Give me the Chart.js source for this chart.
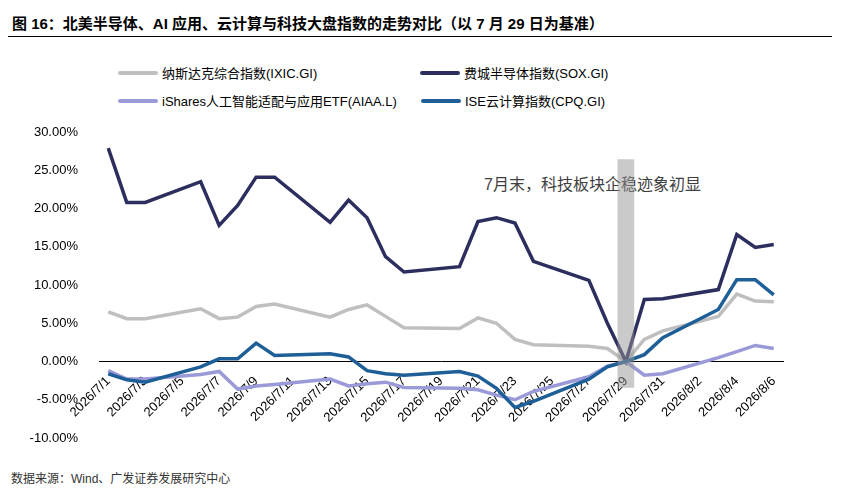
<!DOCTYPE html>
<html>
<head>
<meta charset="utf-8">
<script src="https://cdn.jsdelivr.net/npm/chart.js@4.4.1/dist/chart.umd.min.js"></script>
<style>
    html, body { margin: 0; padding: 0; background: #fff; }
    body { width: 855px; height: 495px; position: relative; overflow: hidden;
           font-family: "Liberation Sans", Arial, "Noto Sans CJK SC", sans-serif; color: #000; }
    #wrap { position: absolute; left: 0; top: 0; width: 855px; height: 495px; }
    .title { position: absolute; left: 12px; top: 12px; font-size: 15px; font-weight: bold; white-space: nowrap; }
    .rule { position: absolute; left: 8px; top: 36px; width: 824px; height: 0; border-top: 1.5px solid #000; }
    .legend-item { position: absolute; display: flex; align-items: center; font-size: 13px; white-space: nowrap; }
    .legend-item span.swatch { display: inline-block; width: 40px; height: 4px; margin-right: 4px; border-radius: 2px; }
    .note { position: absolute; left: 484px; top: 171px; font-size: 16px; color: #404040; white-space: nowrap; }
    .source { position: absolute; left: 11px; top: 469px; font-size: 12px; color: #333; white-space: nowrap; }
</style>
</head>
<body>
<div class="title">图 16：北美半导体、AI 应用、云计算与科技大盘指数的走势对比（以 7 月 29 日为基准）</div>
<div class="rule"></div>
<div id="legend"></div>
<div class="note">7月末，科技板块企稳迹象初显</div>
<div class="source">数据来源：Wind、广发证券发展研究中心</div>
<div id="wrap"><canvas id="trendChart"></canvas></div>

<script>
// 日期（含周末，周末无数据）
const dates = [
    '2026/7/1', '2026/7/2', '2026/7/3', '2026/7/4', '2026/7/5', '2026/7/6', '2026/7/7', '2026/7/8',
    '2026/7/9', '2026/7/10', '2026/7/11', '2026/7/12', '2026/7/13', '2026/7/14', '2026/7/15', '2026/7/16',
    '2026/7/17', '2026/7/18', '2026/7/19', '2026/7/20', '2026/7/21', '2026/7/22', '2026/7/23', '2026/7/24',
    '2026/7/25', '2026/7/26', '2026/7/27', '2026/7/28', '2026/7/29', '2026/7/30', '2026/7/31', '2026/8/1',
    '2026/8/2', '2026/8/3', '2026/8/4', '2026/8/5', '2026/8/6'
];

// 相对 7/29 的涨跌幅 (%)
const ixic = [6.5, 5.6, 5.6, null, null, 6.9, 5.6, 5.8, 7.2, 7.5, null, null, 5.8, 6.8, 7.4, 5.9,
    4.4, null, null, 4.3, 5.7, 5.0, 2.9, 2.2, null, null, 2.0, 1.7, 0, 2.9, 4.0, null, null, 5.9, 8.8, 7.9, 7.8];
const sox = [27.9, 20.8, 20.8, null, null, 23.5, 17.8, 20.4, 24.1, 24.1, null, null, 18.2, 21.1, 18.8, 13.7,
    11.7, null, null, 12.4, 18.3, 18.8, 18.1, 13.1, null, null, 10.6, 5.0, 0, 8.1, 8.2, null, null, 9.4, 16.6, 14.9, 15.3];
const aiaa = [-1.2, -2.3, -2.3, null, null, -1.7, -1.3, -3.6, -3.2, -3.0, null, null, -2.3, -3.2, -2.9, -2.7,
    -3.4, null, null, -3.5, -3.7, -4.4, -5.0, -3.9, null, null, -2.0, -0.6, 0, -1.8, -1.6, null, null, 0.5, 1.3, 2.1, 1.7];
const cpq = [-1.6, -2.4, -2.7, null, null, -0.7, 0.35, 0.35, 2.4, 0.8, null, null, 1.0, 0.6, -1.2, -1.6,
    -1.8, null, null, -1.3, -1.9, -3.5, -6.0, -5.2, null, null, -2.3, -0.7, 0, 0.9, 3.1, null, null, 6.8, 10.7, 10.7, 8.7];

// 7/29 基准日的灰色标记带
const highlightBand = dates.map(d => d === '2026/7/29' ? [-3.4, 26.4] : null);

const seriesNames = ['纳斯达克综合指数(IXIC.GI)', '费城半导体指数(SOX.GI)', 'iShares人工智能适配与应用ETF(AIAA.L)', 'ISE云计算指数(CPQ.GI)'];
const seriesData = [ixic, sox, aiaa, cpq];
const seriesColors = ['#BFBFBF', '#2C2E5E', '#9A9AD8', '#1F5F97'];
const yTicks = [-10, -5, 0, 5, 10, 15, 20, 25, 30];

// 图例（两列）
const legendPos = [[118, 63], [420, 63], [118, 91], [421, 91]];
const legendBox = document.getElementById('legend');
seriesNames.forEach((name, i) => {
    const item = document.createElement('div');
    item.className = 'legend-item';
    item.style.left = legendPos[i][0] + 'px';
    item.style.top = legendPos[i][1] + 'px';
    item.innerHTML = `<span class="swatch" style="background:${seriesColors[i]}"></span>${name}`;
    legendBox.appendChild(item);
});

const lineSets = seriesData.map((data, i) => ({
    type: 'line',
    label: seriesNames[i],
    data: data,
    borderColor: seriesColors[i],
    backgroundColor: seriesColors[i],
    borderWidth: 3.5,
    pointRadius: 0,
    tension: 0,
    spanGaps: true,
    order: 4 - i  // 后面的系列画在上层
}));

new Chart(document.getElementById('trendChart'), {
    data: {
        labels: dates,
        datasets: [{
            type: 'bar',
            label: 'band',
            data: highlightBand,
            backgroundColor: 'rgba(150, 150, 150, 0.5)',
            barThickness: 16,
            order: 0
        }].concat(lineSets)
    },
    options: {
        responsive: true,
        maintainAspectRatio: false,
        animation: false,
        layout: { padding: { top: 132, bottom: 57, left: 0, right: 72 } },
        plugins: { legend: { display: false }, tooltip: { enabled: false } },
        scales: {
            x: {
                position: { y: 0 },
                offset: true,
                grid: { display: false },
                border: { display: true, color: '#000', width: 1 },
                ticks: {
                    autoSkip: false,
                    minRotation: 45,
                    maxRotation: 45,
                    padding: 4,
                    color: '#000',
                    font: { size: 13, family: '"Liberation Sans", Arial' },
                    callback: (v, i) => i % 2 === 0 ? dates[i] : null
                },
                afterFit: (s) => { s.height = 0; }
            },
            y: {
                min: -10,
                max: 30,
                afterBuildTicks: (s) => { s.ticks = yTicks.map(v => ({ value: v })); },
                grid: { display: false },
                border: { display: false },
                ticks: {
                    padding: 13,
                    color: '#000',
                    font: { size: 13, family: '"Liberation Sans", Arial' },
                    callback: v => v.toFixed(2) + '%'
                },
                afterFit: (s) => { s.width = 99; }
            }
        }
    }
});
</script>
</body>
</html>
